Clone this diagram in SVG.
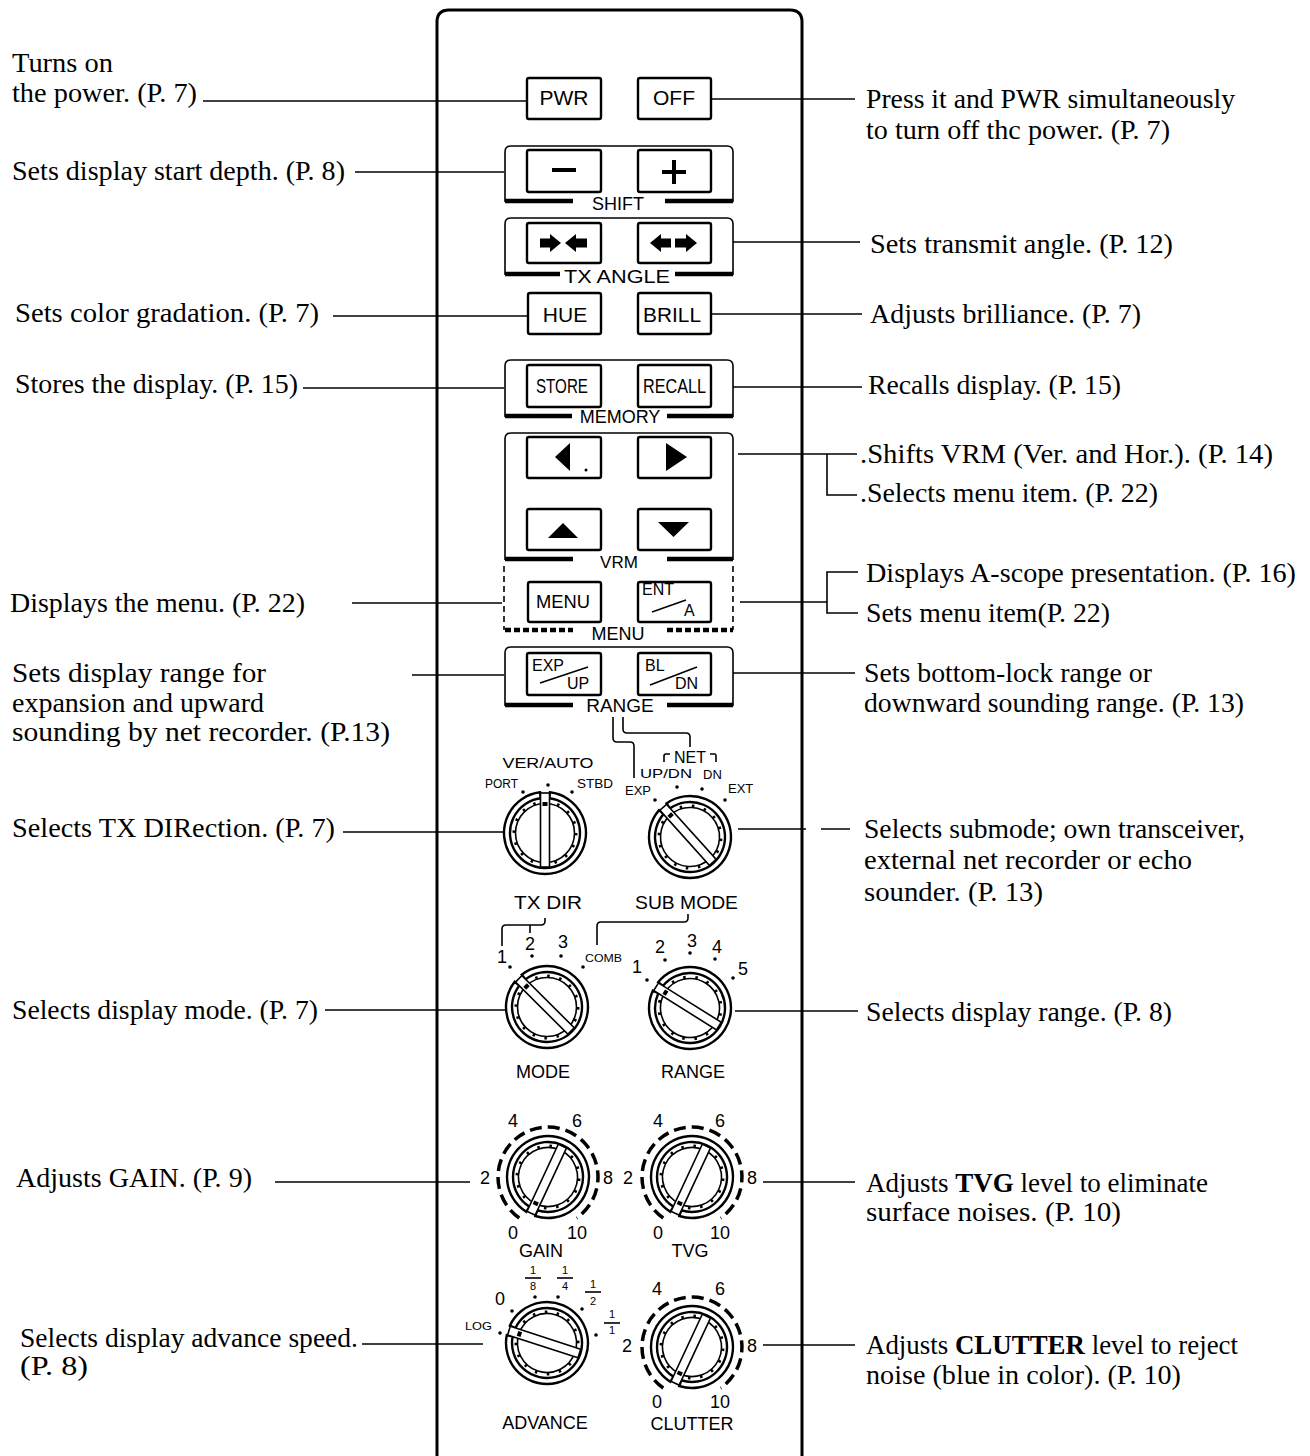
<svg xmlns="http://www.w3.org/2000/svg" xmlns:xlink="http://www.w3.org/1999/xlink" width="1310" height="1456" viewBox="0 0 1310 1456">
<style>
.d{font-family:"Liberation Serif","Times New Roman",serif;font-size:27px;fill:#000}
.p{font-family:"Liberation Sans",Arial,sans-serif;fill:#000}
.c{text-anchor:middle}
.ln{stroke:#000;stroke-width:1.6;fill:none}
.btn{fill:#fff;stroke:#000;stroke-width:2.4}
.grp{fill:none;stroke:#000;stroke-width:1.6}
.bar{stroke:#000;stroke-width:4.5;fill:none}
.dot{fill:#000}
</style>
<defs>
<g id="knobShape">
<path d="M5,-40.7 A41 41 0 1 1 -5,-40.7 L-4.3,-34.7 A35 35 0 1 0 4.3,-34.7 Z" fill="#fff" stroke="#000" stroke-width="2.4"/>
<circle r="29.5" fill="#fff" stroke="#000" stroke-width="1.6"/>
<circle r="31" fill="none" stroke="#000" stroke-width="3" stroke-dasharray="2.5 9.67"/>
<rect x="-4.5" y="-40" width="9" height="74" fill="#fff" stroke="#000" stroke-width="1.6"/>
<rect x="-2.5" y="-31" width="5" height="4" fill="#000"/>
</g>
</defs>
<rect width="1310" height="1456" fill="#fff"/>

<g id="panel">
<path d="M437,1460 V22 Q437,10 449,10 H790 Q802,10 802,22 V1460" fill="none" stroke="#000" stroke-width="3"/>
</g>

<g id="pwr"><rect class="btn" x="527" y="78" width="74" height="41" rx="2"/><text class="p c" x="564" y="105" font-size="21">PWR</text></g>
<g id="off"><rect class="btn" x="638" y="78" width="73" height="41" rx="2"/><text class="p c" x="674" y="105" font-size="21">OFF</text></g>

<g id="shift">
<path class="grp" d="M505,202 V152 Q505,146 511,146 H727 Q733,146 733,152 V202"/>
<path class="bar" d="M505,201 H573 M665,201 H733"/>
<text class="p c" x="618" y="210" font-size="18">SHIFT</text>
<rect class="btn" x="527" y="150" width="74" height="42" rx="2"/>
<rect class="btn" x="638" y="150" width="73" height="42" rx="2"/>
<path d="M552,170 H576" stroke="#000" stroke-width="4"/>
<path d="M662,172 H686 M674,160 V184" stroke="#000" stroke-width="4"/>
</g>

<g id="txangle">
<path class="grp" d="M505,275 V224 Q505,218 511,218 H727 Q733,218 733,224 V275"/>
<path class="bar" d="M505,274 H560 M675,274 H733"/>
<text class="p" x="564" y="283" font-size="18" textLength="106" lengthAdjust="spacingAndGlyphs">TX  ANGLE</text>
<rect class="btn" x="527" y="223" width="74" height="40" rx="2"/>
<rect class="btn" x="638" y="223" width="73" height="40" rx="2"/>
<path d="M540,238.5 H550 V234 L561,243 L550,252 V247.5 H540 Z M587,238.5 H576 V234 L565,243 L576,252 V247.5 H587 Z" fill="#000"/>
<path d="M671,238.5 H661 V234 L650,243 L661,252 V247.5 H671 Z M675,238.5 H686 V234 L697,243 L686,252 V247.5 H675 Z" fill="#000"/>
</g>

<g id="hue"><rect class="btn" x="528" y="293" width="73" height="41" rx="2"/><text class="p c" x="565" y="322" font-size="21">HUE</text></g>
<g id="brill"><rect class="btn" x="638" y="293" width="73" height="41" rx="2"/><text class="p" x="643" y="322" font-size="21" textLength="58" lengthAdjust="spacingAndGlyphs">BRILL</text></g>

<g id="memory">
<path class="grp" d="M505,417 V366 Q505,360 511,360 H727 Q733,360 733,366 V417"/>
<path class="bar" d="M505,416 H572 M667,416 H733"/>
<text class="p c" x="620" y="423" font-size="18">MEMORY</text>
<rect class="btn" x="527" y="365" width="74" height="42" rx="2"/>
<text class="p" x="536" y="393" font-size="21" textLength="52" lengthAdjust="spacingAndGlyphs">STORE</text>
<rect class="btn" x="638" y="365" width="73" height="42" rx="2"/>
<text class="p" x="643" y="393" font-size="21" textLength="63" lengthAdjust="spacingAndGlyphs">RECALL</text>
</g>

<g id="vrm">
<path class="grp" d="M505,560 V439 Q505,433 511,433 H727 Q733,433 733,439 V560"/>
<path class="bar" d="M505,559 H573 M667,559 H733"/>
<text class="p c" x="619" y="568" font-size="17">VRM</text>
<rect class="btn" x="527" y="437" width="74" height="41" rx="2"/>
<path d="M555,457 L570,443 V471 Z" fill="#000"/>
<circle cx="586" cy="470" r="1.5" fill="#000"/>
<rect class="btn" x="638" y="437" width="73" height="41" rx="2"/>
<path d="M687,457 L666,443 V471 Z" fill="#000"/>
<rect class="btn" x="527" y="509" width="74" height="41" rx="2"/>
<path d="M548,538 H578 L563,523 Z" fill="#000"/>
<rect class="btn" x="638" y="509" width="73" height="41" rx="2"/>
<path d="M658,522 H689 L673.5,537 Z" fill="#000"/>
</g>

<g id="menu">
<path d="M504,566 V630 M733,566 V630" stroke="#000" stroke-width="1.6" stroke-dasharray="6 4" fill="none"/>
<path d="M505,630 H573 M667,630 H733" stroke="#000" stroke-width="4.5" stroke-dasharray="6 3" fill="none"/>
<text class="p c" x="618" y="640" font-size="18">MENU</text>
<rect class="btn" x="528" y="582" width="73" height="40" rx="2"/>
<text class="p" x="536" y="608" font-size="19" textLength="54" lengthAdjust="spacingAndGlyphs">MENU</text>
<rect class="btn" x="638" y="582" width="73" height="40" rx="2"/>
<text class="p" x="642" y="595" font-size="16">ENT</text>
<path d="M652,612 L686,600" class="ln"/>
<text class="p" x="684" y="616" font-size="16">A</text>
</g>

<g id="range">
<path class="grp" d="M505,706 V653 Q505,647 511,647 H727 Q733,647 733,653 V706"/>
<path class="bar" d="M505,705 H573 M667,705 H733"/>
<text class="p c" x="620" y="712" font-size="19">RANGE</text>
<rect class="btn" x="527" y="653" width="74" height="42" rx="2"/>
<text class="p" x="532" y="671" font-size="16">EXP</text>
<path d="M540,683 L588,667" class="ln"/>
<text class="p" x="567" y="689" font-size="16">UP</text>
<rect class="btn" x="638" y="653" width="73" height="42" rx="2"/>
<text class="p" x="645" y="671" font-size="16">BL</text>
<path d="M650,685 L697,667" class="ln"/>
<text class="p" x="675" y="689" font-size="16">DN</text>
</g>

<g id="txdir">
<use xlink:href="#knobShape" href="#knobShape" transform="translate(545,833)"/>
<text class="p c" x="548" y="768" font-size="15" textLength="91" lengthAdjust="spacingAndGlyphs">VER/AUTO</text>
<text class="p" x="485" y="788" font-size="12" textLength="33" lengthAdjust="spacingAndGlyphs">PORT</text>
<text class="p" x="577" y="788" font-size="12" textLength="36" lengthAdjust="spacingAndGlyphs">STBD</text>
<circle class="dot" cx="523" cy="792" r="1.8"/><circle class="dot" cx="548" cy="785" r="1.8"/><circle class="dot" cx="572" cy="792" r="1.8"/>
<text class="p" x="514" y="909" font-size="18" textLength="68" lengthAdjust="spacingAndGlyphs">TX  DIR</text>
</g>

<g id="submode">
<use xlink:href="#knobShape" href="#knobShape" transform="translate(690,837) rotate(-42)"/>
<text class="p c" x="690" y="763" font-size="16">NET</text>
<path class="ln" d="M664,762 V756 Q664,754 666,754 H670 M710,754 H715 Q716,754 716,756 V762"/>
<text class="p" x="640" y="778" font-size="13" textLength="52" lengthAdjust="spacingAndGlyphs">UP/DN</text>
<text class="p" x="703" y="779" font-size="13">DN</text>
<text class="p" x="625" y="795" font-size="13">EXP</text>
<text class="p" x="728" y="793" font-size="13">EXT</text>
<circle class="dot" cx="655" cy="800" r="1.8"/><circle class="dot" cx="677" cy="787" r="1.8"/><circle class="dot" cx="702" cy="789" r="1.8"/><circle class="dot" cx="725" cy="800" r="1.8"/>
<text class="p" x="635" y="909" font-size="18" textLength="103" lengthAdjust="spacingAndGlyphs">SUB  MODE</text>
</g>

<g id="mode">
<use xlink:href="#knobShape" href="#knobShape" transform="translate(547,1007) rotate(-45)"/>
<text class="p c" x="502" y="963" font-size="18">1</text>
<text class="p c" x="530" y="950" font-size="18">2</text>
<text class="p c" x="563" y="948" font-size="18">3</text>
<text class="p" x="585" y="962" font-size="11" textLength="37" lengthAdjust="spacingAndGlyphs">COMB</text>
<circle class="dot" cx="510" cy="967" r="1.8"/><circle class="dot" cx="532" cy="956" r="1.8"/><circle class="dot" cx="561" cy="956" r="1.8"/><circle class="dot" cx="583" cy="967" r="1.8"/>
<text class="p c" x="543" y="1078" font-size="18">MODE</text>
</g>

<g id="rangeknob">
<use xlink:href="#knobShape" href="#knobShape" transform="translate(690,1008) rotate(-58)"/>
<text class="p c" x="637" y="973" font-size="18">1</text>
<text class="p c" x="660" y="953" font-size="18">2</text>
<text class="p c" x="692" y="947" font-size="18">3</text>
<text class="p c" x="717" y="953" font-size="18">4</text>
<text class="p c" x="743" y="975" font-size="18">5</text>
<circle class="dot" cx="647" cy="980" r="1.8"/><circle class="dot" cx="665" cy="960" r="1.8"/><circle class="dot" cx="690" cy="953" r="1.8"/><circle class="dot" cx="715" cy="959" r="1.8"/><circle class="dot" cx="733" cy="978" r="1.8"/>
<text class="p c" x="693" y="1078" font-size="18">RANGE</text>
</g>

<g id="gain">
<path d="M519.3,1218 A50 50 0 1 1 576.7,1218" fill="none" stroke="#000" stroke-width="3.5" stroke-dasharray="12 6"/>
<use xlink:href="#knobShape" href="#knobShape" transform="translate(548,1177) rotate(205)"/>
<text class="p c" x="513" y="1127" font-size="18">4</text>
<text class="p c" x="577" y="1127" font-size="18">6</text>
<text class="p c" x="485" y="1184" font-size="18">2</text>
<text class="p c" x="608" y="1184" font-size="18">8</text>
<text class="p c" x="513" y="1239" font-size="18">0</text>
<text class="p c" x="577" y="1239" font-size="18">10</text>
<text class="p c" x="541" y="1257" font-size="18">GAIN</text>
</g>

<g id="tvg">
<path d="M663.3,1218 A50 50 0 1 1 720.7,1218" fill="none" stroke="#000" stroke-width="3.5" stroke-dasharray="12 6"/>
<use xlink:href="#knobShape" href="#knobShape" transform="translate(692,1177) rotate(205)"/>
<text class="p c" x="658" y="1127" font-size="18">4</text>
<text class="p c" x="720" y="1127" font-size="18">6</text>
<text class="p c" x="628" y="1184" font-size="18">2</text>
<text class="p c" x="752" y="1184" font-size="18">8</text>
<text class="p c" x="658" y="1239" font-size="18">0</text>
<text class="p c" x="720" y="1239" font-size="18">10</text>
<text class="p c" x="690" y="1257" font-size="18">TVG</text>
</g>

<g id="advance">
<use xlink:href="#knobShape" href="#knobShape" transform="translate(547,1343) rotate(-72)"/>
<text class="p c" x="500" y="1305" font-size="18">0</text>
<text class="p c" x="533" y="1274" font-size="11">1</text><path class="ln" d="M525,1278 H541" stroke-width="1.2"/><text class="p c" x="533" y="1290" font-size="11">8</text>
<text class="p c" x="565" y="1274" font-size="11">1</text><path class="ln" d="M557,1278 H573" stroke-width="1.2"/><text class="p c" x="565" y="1290" font-size="11">4</text>
<text class="p c" x="593" y="1288" font-size="11">1</text><path class="ln" d="M585,1292 H601" stroke-width="1.2"/><text class="p c" x="593" y="1305" font-size="11">2</text>
<text class="p c" x="612" y="1318" font-size="11">1</text><path class="ln" d="M604,1323 H620" stroke-width="1.2"/><text class="p c" x="612" y="1334" font-size="11">1</text>
<text class="p" x="465" y="1330" font-size="11" textLength="27" lengthAdjust="spacingAndGlyphs">LOG</text>
<circle class="dot" cx="500" cy="1333" r="1.8"/><circle class="dot" cx="512" cy="1311" r="1.8"/><circle class="dot" cx="535" cy="1297" r="1.8"/><circle class="dot" cx="558" cy="1297" r="1.8"/><circle class="dot" cx="582" cy="1309" r="1.8"/><circle class="dot" cx="596" cy="1335" r="1.8"/>
<text class="p c" x="545" y="1429" font-size="18">ADVANCE</text>
</g>

<g id="clutter">
<path d="M663.3,1388 A50 50 0 1 1 720.7,1388" fill="none" stroke="#000" stroke-width="3.5" stroke-dasharray="12 6"/>
<use xlink:href="#knobShape" href="#knobShape" transform="translate(692,1347) rotate(205)"/>
<text class="p c" x="657" y="1295" font-size="18">4</text>
<text class="p c" x="720" y="1295" font-size="18">6</text>
<text class="p c" x="627" y="1352" font-size="18">2</text>
<text class="p c" x="752" y="1352" font-size="18">8</text>
<text class="p c" x="657" y="1408" font-size="18">0</text>
<text class="p c" x="720" y="1408" font-size="18">10</text>
<text class="p c" x="692" y="1430" font-size="18">CLUTTER</text>
</g>

<g id="connectors">
<path class="ln" d="M203,101 H527"/>
<path class="ln" d="M355,172 H504"/>
<path class="ln" d="M333,316 H528"/>
<path class="ln" d="M303,388 H504"/>
<path class="ln" d="M352,603 H502"/>
<path class="ln" d="M412,675 H504"/>
<path class="ln" d="M343,832 H503"/>
<path class="ln" d="M325,1010 H505"/>
<path class="ln" d="M275,1182 H470"/>
<path class="ln" d="M362,1344 H483"/>
<path class="ln" d="M711,99 H855"/>
<path class="ln" d="M733,242 H860"/>
<path class="ln" d="M711,314 H862"/>
<path class="ln" d="M733,387 H862"/>
<path class="ln" d="M738,454 H857 M827,454 V495 H857"/>
<path class="ln" d="M740,602 H827 M858,572 H827 V613 H858"/>
<path class="ln" d="M733,673 H855"/>
<path class="ln" d="M738,829 H806 M821,829 H850"/>
<path class="ln" d="M735,1011 H858"/>
<path class="ln" d="M763,1182 H855"/>
<path class="ln" d="M763,1345 H855"/>
<path class="ln" d="M502,946 V929 Q502,925 506,925 H541 Q545,925 545,921 V918 M530,925 V933"/>
<path class="ln" d="M688,914 V918 Q688,922 684,922 H601 Q597,922 597,926 V945"/>
<path class="ln" d="M613,717 V738 Q613,742 617,742 H630 Q634,742 634,746 V778"/>
<path class="ln" d="M623,717 V729 Q623,733 627,733 H686 Q690,733 690,737 V747"/>
</g>

<g id="left-notes">
<text class="d" x="12" y="72" textLength="101" lengthAdjust="spacingAndGlyphs">Turns on</text>
<text class="d" x="12" y="102" textLength="185" lengthAdjust="spacingAndGlyphs">the power. (P. 7)</text>
<text class="d" x="12" y="180" textLength="333" lengthAdjust="spacingAndGlyphs">Sets display start depth. (P. 8)</text>
<text class="d" x="15" y="322" textLength="304" lengthAdjust="spacingAndGlyphs">Sets color gradation. (P.  7)</text>
<text class="d" x="15" y="393" textLength="283" lengthAdjust="spacingAndGlyphs">Stores the display. (P. 15)</text>
<text class="d" x="10" y="612" textLength="295" lengthAdjust="spacingAndGlyphs">Displays the menu. (P. 22)</text>
<text class="d" x="12" y="682" textLength="254" lengthAdjust="spacingAndGlyphs">Sets display range for</text>
<text class="d" x="12" y="712" textLength="252" lengthAdjust="spacingAndGlyphs">expansion and upward</text>
<text class="d" x="12" y="741" textLength="378" lengthAdjust="spacingAndGlyphs">sounding by net recorder. (P.13)</text>
<text class="d" x="12" y="837" textLength="323" lengthAdjust="spacingAndGlyphs">Selects TX DIRection. (P. 7)</text>
<text class="d" x="12" y="1019" textLength="306" lengthAdjust="spacingAndGlyphs">Selects display mode. (P. 7)</text>
<text class="d" x="16" y="1187" textLength="236" lengthAdjust="spacingAndGlyphs">Adjusts GAIN. (P. 9)</text>
<text class="d" x="20" y="1347" font-size="25" textLength="338" lengthAdjust="spacingAndGlyphs">Selects display advance speed.</text>
<text class="d" x="20" y="1375" font-size="25" textLength="68" lengthAdjust="spacingAndGlyphs">(P. 8)</text>
</g>

<g id="right-notes">
<text class="d" x="866" y="108" textLength="369" lengthAdjust="spacingAndGlyphs">Press it and PWR simultaneously</text>
<text class="d" x="866" y="139" textLength="304" lengthAdjust="spacingAndGlyphs">to turn off thc power. (P. 7)</text>
<text class="d" x="870" y="253" textLength="303" lengthAdjust="spacingAndGlyphs">Sets transmit angle.  (P. 12)</text>
<text class="d" x="870" y="323" textLength="271" lengthAdjust="spacingAndGlyphs">Adjusts brilliance. (P. 7)</text>
<text class="d" x="868" y="394" textLength="253" lengthAdjust="spacingAndGlyphs">Recalls display. (P. 15)</text>
<text class="d" x="860" y="463" textLength="413" lengthAdjust="spacingAndGlyphs">.Shifts VRM (Ver. and Hor.). (P. 14)</text>
<text class="d" x="860" y="502" textLength="298" lengthAdjust="spacingAndGlyphs">.Selects menu item. (P. 22)</text>
<text class="d" x="866" y="582" textLength="430" lengthAdjust="spacingAndGlyphs">Displays A-scope presentation. (P. 16)</text>
<text class="d" x="866" y="622" textLength="244" lengthAdjust="spacingAndGlyphs">Sets menu item(P. 22)</text>
<text class="d" x="864" y="682" textLength="288" lengthAdjust="spacingAndGlyphs">Sets bottom-lock range or</text>
<text class="d" x="864" y="712" textLength="380" lengthAdjust="spacingAndGlyphs">downward sounding range. (P. 13)</text>
<text class="d" x="864" y="838" textLength="381" lengthAdjust="spacingAndGlyphs">Selects submode; own transceiver,</text>
<text class="d" x="864" y="869" textLength="328" lengthAdjust="spacingAndGlyphs">external net recorder or echo</text>
<text class="d" x="864" y="901" textLength="179" lengthAdjust="spacingAndGlyphs">sounder. (P. 13)</text>
<text class="d" x="866" y="1021" textLength="306" lengthAdjust="spacingAndGlyphs">Selects display range. (P. 8)</text>
<text class="d" x="866" y="1192" textLength="342" lengthAdjust="spacingAndGlyphs">Adjusts <tspan font-weight="bold">TVG</tspan> level to eliminate</text>
<text class="d" x="866" y="1221" textLength="255" lengthAdjust="spacingAndGlyphs">surface noises. (P. 10)</text>
<text class="d" x="866" y="1354" textLength="372" lengthAdjust="spacingAndGlyphs">Adjusts <tspan font-weight="bold">CLUTTER</tspan> level to reject</text>
<text class="d" x="866" y="1384" textLength="315" lengthAdjust="spacingAndGlyphs">noise (blue in color). (P. 10)</text>
</g>
</svg>
